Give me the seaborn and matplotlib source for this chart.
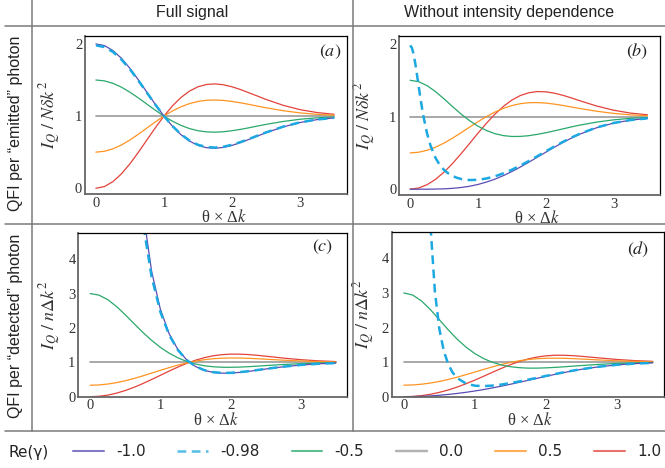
import numpy as np
import matplotlib
matplotlib.use("Agg")
import matplotlib.pyplot as plt
from matplotlib.lines import Line2D
from matplotlib.ticker import MultipleLocator
import seaborn as sns

# ---------- data ----------
gammas = ["-1.0", "-0.98", "-0.5", "0.0", "0.5", "1.0"]

x_main = [0, 0.125, 0.25, 0.375, 0.5, 0.625, 0.75, 0.875, 1.0, 1.125, 1.25, 1.375, 1.5,
          1.625, 1.75, 1.875, 2.0, 2.125, 2.25, 2.375, 2.5, 2.75, 3.0, 3.25, 3.5]
x_dash = [0, 0.025, 0.05, 0.075, 0.1, 0.125, 0.15, 0.175, 0.2, 0.25, 0.3, 0.375, 0.4375,
          0.5, 0.5625, 0.625, 0.6875, 0.75, 0.875, 1.0, 1.125, 1.25, 1.375, 1.5, 1.625,
          1.75, 1.875, 2.0, 2.125, 2.25, 2.375, 2.5, 2.75, 3.0, 3.25, 3.5]
x_flat = [0, 3.5]
y_flat = [1.0, 1.0]

# (a) full signal, per emitted photon
a_neg1 = [2.000, 1.977, 1.909, 1.801, 1.662, 1.501, 1.330, 1.160, 1.000, 0.859, 0.742, 0.654, 0.594,
          0.562, 0.554, 0.566, 0.594, 0.632, 0.677, 0.723, 0.769, 0.850, 0.911, 0.951, 0.975]
a_neg098 = [1.980, 1.957, 1.890, 1.785, 1.649, 1.491, 1.324, 1.157, 1.000, 0.862, 0.748, 0.661, 0.602,
            0.571, 0.563, 0.575, 0.602, 0.640, 0.683, 0.729, 0.774, 0.853, 0.913, 0.952, 0.976]
a_neg05 = [1.500, 1.488, 1.454, 1.401, 1.331, 1.251, 1.165, 1.080, 1.000, 0.929, 0.871, 0.827, 0.797,
           0.781, 0.777, 0.783, 0.797, 0.816, 0.838, 0.862, 0.885, 0.925, 0.956, 0.976, 0.988]
a_pos05 = [0.500, 0.512, 0.546, 0.599, 0.669, 0.749, 0.835, 0.920, 1.000, 1.071, 1.129, 1.173, 1.203,
           1.219, 1.223, 1.217, 1.203, 1.184, 1.162, 1.138, 1.115, 1.075, 1.044, 1.024, 1.012]
a_pos1 = [0.000, 0.023, 0.091, 0.199, 0.338, 0.499, 0.670, 0.840, 1.000, 1.141, 1.258, 1.346, 1.406,
          1.438, 1.446, 1.434, 1.406, 1.368, 1.323, 1.277, 1.231, 1.150, 1.089, 1.049, 1.025]

# (b) without intensity dependence, per emitted photon
b_neg1 = [0.000, 0.000, 0.000, 0.002, 0.005, 0.012, 0.023, 0.040, 0.065, 0.098, 0.138, 0.187, 0.243,
          0.305, 0.371, 0.440, 0.509, 0.577, 0.642, 0.702, 0.757, 0.846, 0.910, 0.951, 0.975]
b_neg098 = [1.980, 1.950, 1.864, 1.736, 1.583, 1.423, 1.265, 1.118, 0.986, 0.766, 0.601, 0.429, 0.333,
            0.265, 0.217, 0.182, 0.158, 0.141, 0.126, 0.129, 0.147, 0.177, 0.218, 0.268, 0.326,
            0.388, 0.454, 0.521, 0.587, 0.650, 0.709, 0.762, 0.850, 0.912, 0.952, 0.976]
b_neg05 = [1.500, 1.481, 1.426, 1.343, 1.244, 1.138, 1.036, 0.945, 0.868, 0.808, 0.765, 0.738, 0.726,
           0.727, 0.737, 0.755, 0.777, 0.803, 0.830, 0.857, 0.882, 0.924, 0.955, 0.976, 0.988]
b_pos05 = [0.500, 0.509, 0.536, 0.579, 0.635, 0.703, 0.777, 0.854, 0.929, 1.000, 1.062, 1.113, 1.152,
           1.178, 1.191, 1.193, 1.186, 1.172, 1.154, 1.133, 1.112, 1.074, 1.044, 1.024, 1.012]
b_pos1 = [0.000, 0.016, 0.062, 0.136, 0.235, 0.354, 0.487, 0.628, 0.771, 0.908, 1.033, 1.140, 1.227,
          1.290, 1.328, 1.345, 1.341, 1.323, 1.294, 1.258, 1.219, 1.146, 1.088, 1.048, 1.025]

# (c) full signal, per detected photon
c_neg1 = [np.nan, 254.0, 62.04, 26.53, 14.14, 8.461, 5.426, 3.647, 2.541, 1.832, 1.369, 1.070, 0.880,
          0.767, 0.707, 0.684, 0.687, 0.706, 0.735, 0.769, 0.805, 0.870, 0.921, 0.956, 0.978]
c_neg098 = [99.0, 70.85, 37.70, 20.63, 12.20, 7.692, 5.086, 3.487, 2.466, 1.797, 1.356, 1.067, 0.883,
            0.773, 0.714, 0.692, 0.694, 0.713, 0.741, 0.774, 0.809, 0.873, 0.923, 0.957, 0.978]
c_neg05 = [3.000, 2.954, 2.822, 2.623, 2.382, 2.124, 1.871, 1.639, 1.435, 1.266, 1.130, 1.026, 0.952,
           0.901, 0.871, 0.857, 0.855, 0.861, 0.873, 0.888, 0.905, 0.936, 0.961, 0.978, 0.989]
c_pos05 = [0.333, 0.342, 0.368, 0.409, 0.464, 0.531, 0.606, 0.686, 0.767, 0.846, 0.919, 0.982, 1.035,
           1.076, 1.104, 1.120, 1.127, 1.125, 1.117, 1.105, 1.091, 1.063, 1.039, 1.022, 1.011]
c_pos1 = [0.000, 0.012, 0.046, 0.103, 0.180, 0.274, 0.382, 0.500, 0.622, 0.745, 0.863, 0.969, 1.061,
          1.135, 1.189, 1.223, 1.238, 1.238, 1.226, 1.205, 1.179, 1.124, 1.077, 1.043, 1.022]

# (d) without intensity dependence, per detected photon
d_neg1 = [0.000, 0.003, 0.010, 0.023, 0.042, 0.065, 0.094, 0.127, 0.165, 0.208, 0.255, 0.306, 0.360,
          0.416, 0.474, 0.532, 0.589, 0.645, 0.698, 0.747, 0.792, 0.866, 0.920, 0.956, 0.978]
d_neg098 = [99.0, 96.01, 87.80, 76.29, 63.62, 51.49, 40.85, 32.04, 25.01, 15.28, 9.523, 4.958, 3.043,
            1.961, 1.325, 0.938, 0.696, 0.541, 0.379, 0.318, 0.306, 0.321, 0.352, 0.394, 0.441,
            0.493, 0.546, 0.601, 0.654, 0.705, 0.753, 0.796, 0.869, 0.922, 0.957, 0.978]
d_neg05 = [3.000, 2.939, 2.767, 2.516, 2.226, 1.934, 1.665, 1.434, 1.246, 1.100, 0.992, 0.916, 0.867,
           0.839, 0.826, 0.826, 0.834, 0.847, 0.864, 0.883, 0.901, 0.935, 0.961, 0.978, 0.989]
d_pos05 = [0.333, 0.340, 0.361, 0.395, 0.441, 0.498, 0.564, 0.637, 0.713, 0.790, 0.864, 0.932, 0.991,
           1.039, 1.075, 1.098, 1.111, 1.114, 1.110, 1.101, 1.089, 1.062, 1.038, 1.022, 1.011]
d_pos1 = [0.000, 0.008, 0.031, 0.070, 0.125, 0.194, 0.278, 0.374, 0.480, 0.593, 0.709, 0.821, 0.926,
          1.018, 1.092, 1.147, 1.182, 1.198, 1.198, 1.187, 1.168, 1.120, 1.076, 1.043, 1.022]

# ---------- style ----------
sns.set_style("white")
plt.rcParams["font.family"] = ["Liberation Serif", "DejaVu Serif"]
plt.rcParams["mathtext.fontset"] = "stix"
SANS = ["Liberation Sans", "DejaVu Sans"]

colors = {"-1.0": "#5a4db2", "-0.98": "#1ca8e0", "-0.5": "#2aa86c",
          "0.0": "#9a9a9a", "0.5": "#ff9422", "1.0": "#e2433b"}
widths = {"-1.0": 0.9, "-0.98": 1.8, "-0.5": 0.9, "0.0": 1.2, "0.5": 0.9, "1.0": 0.9}
styles = {g: "-" for g in gammas}
styles["-0.98"] = (0, (3.5, 2.2))
draw_order = ["0.0", "1.0", "0.5", "-0.5", "-1.0", "-0.98"]

W, H = 665, 468
fig = plt.figure(figsize=(W / 100, H / 100), dpi=100)

def rect(l, t, r, b):
    return [l / W, 1 - b / H, (r - l) / W, (b - t) / H]

panels = [
    dict(tag="a", rect=rect(85, 36, 347, 194), ylim=(-0.08, 2.11), xlim=(-0.16, 3.69),
         yticks=[0, 1, 2], ylabel=r"$I_Q\ /\ N\delta k^2$", ylx=-0.084, xlx=0.53,
         tagpos=(0.935, 0.9),
         series={"-1.0": (x_main, a_neg1), "-0.98": (x_main, a_neg098), "-0.5": (x_main, a_neg05),
                 "0.0": (x_flat, y_flat), "0.5": (x_main, a_pos05), "1.0": (x_main, a_pos1)}),
    dict(tag="b", rect=rect(399.3, 36, 660.3, 195), ylim=(-0.08, 2.11), xlim=(-0.16, 3.69),
         yticks=[0, 1, 2], ylabel=r"$I_Q\ /\ N\delta k^2$", ylx=-0.082, xlx=0.526,
         tagpos=(0.91, 0.9),
         series={"-1.0": (x_main, b_neg1), "-0.98": (x_dash, b_neg098), "-0.5": (x_main, b_neg05),
                 "0.0": (x_flat, y_flat), "0.5": (x_main, b_pos05), "1.0": (x_main, b_pos1)}),
    dict(tag="c", rect=rect(78.3, 232.7, 347, 396.7), ylim=(0, 4.77), xlim=(-0.17, 3.66),
         yticks=[0, 1, 2, 3, 4], ylabel=r"$I_Q\ /\ n\Delta k^2$", ylx=-0.057, xlx=0.512,
         tagpos=(0.91, 0.915),
         series={"-1.0": (x_main, c_neg1), "-0.98": (x_main, c_neg098), "-0.5": (x_main, c_neg05),
                 "0.0": (x_flat, y_flat), "0.5": (x_main, c_pos05), "1.0": (x_main, c_pos1)}),
    dict(tag="d", rect=rect(391.7, 231.7, 664, 396.7), ylim=(0, 4.77), xlim=(-0.17, 3.66),
         yticks=[0, 1, 2, 3, 4], ylabel=r"$I_Q\ /\ n\Delta k^2$", ylx=-0.054, xlx=0.508,
         tagpos=(0.905, 0.89),
         series={"-1.0": (x_main, d_neg1), "-0.98": (x_dash, d_neg098), "-0.5": (x_main, d_neg05),
                 "0.0": (x_flat, y_flat), "0.5": (x_main, d_pos05), "1.0": (x_main, d_pos1)}),
]

for p in panels:
    ax = fig.add_axes(p["rect"])
    for g in draw_order:
        xs, ys = p["series"][g]
        sns.lineplot(x=xs, y=ys, ax=ax, color=colors[g], lw=widths[g], linestyle=styles[g],
                     estimator=None, sort=False, legend=False)
    ax.set_xlim(*p["xlim"])
    ax.set_ylim(*p["ylim"])
    ax.set_xticks([0, 1, 2, 3])
    ax.set_yticks(p["yticks"])
    ax.xaxis.set_minor_locator(MultipleLocator(0.5))
    ax.yaxis.set_minor_locator(MultipleLocator(0.5))
    ax.tick_params(which="both", direction="in", top=False, right=False, colors="#666666",
                   labelcolor="#333333", labelsize=10.5, pad=2, width=0.6)
    ax.tick_params(which="major", length=3)
    ax.tick_params(which="minor", length=1.6)
    for side in ["top", "right"]:
        ax.spines[side].set_color("black")
        ax.spines[side].set_linewidth(0.9)
    for side in ["left", "bottom"]:
        ax.spines[side].set_color("#666666")
        ax.spines[side].set_linewidth(1.3)
    ax.set_xlabel("θ × Δ$k$", fontsize=12, color="#333333")
    ax.xaxis.set_label_coords(p["xlx"], -0.095)
    ax.set_ylabel(p["ylabel"], fontsize=13, color="#333333")
    ax.yaxis.set_label_coords(p["ylx"], 0.5)
    ax.text(*p["tagpos"], "$(%s)$" % p["tag"], transform=ax.transAxes, ha="center",
            va="center", fontsize=13, color="#222222")

# ---------- table frame, headers and row labels ----------
line_kw = dict(color="#7a7a7a", lw=1.1, transform=fig.transFigure)
fig.add_artist(Line2D([32 / W, 32 / W], [1, 1 - 431 / H], **line_kw))
fig.add_artist(Line2D([353 / W, 353 / W], [1, 1 - 431 / H], **line_kw))
for yy in [26, 224, 431]:
    fig.add_artist(Line2D([5 / W, 1], [1 - yy / H, 1 - yy / H], **line_kw))

fig.text(192.5 / W, 1 - 13 / H, "Full signal", ha="center", va="center", fontsize=11.5,
         family=SANS, color="#222222")
fig.text(509 / W, 1 - 13 / H, "Without intensity dependence", ha="center", va="center",
         fontsize=11.5, family=SANS, color="#222222")
fig.text(16 / W, 1 - 123 / H, "QFI per \u201cemitted\u201d photon", rotation=90, ha="center",
         va="center", fontsize=11.5, family=SANS, color="#222222")
fig.text(16 / W, 1 - 326 / H, "QFI per \u201cdetected\u201d photon", rotation=90, ha="center",
         va="center", fontsize=11.5, family=SANS, color="#222222")

# ---------- legend ----------
handles = [Line2D([], [], color=colors[g], lw=widths[g] + 0.6 if g != "-0.98" else 1.8,
                  linestyle=styles[g], alpha=0.75) for g in gammas]
fig.text(8 / W, 1 - 452 / H, "Re(\u03b3)", ha="left", va="center", fontsize=11,
         family="DejaVu Sans", color="#222222")
fig.legend(handles, gammas, loc="center left", bbox_to_anchor=(73 / W, 1 - 452 / H), ncol=6,
           frameon=False, handlelength=2.0, handletextpad=0.8, columnspacing=2.1,
           borderpad=0, borderaxespad=0, prop={"family": "DejaVu Sans", "size": 11})

fig.savefig("out.png", dpi=100)
